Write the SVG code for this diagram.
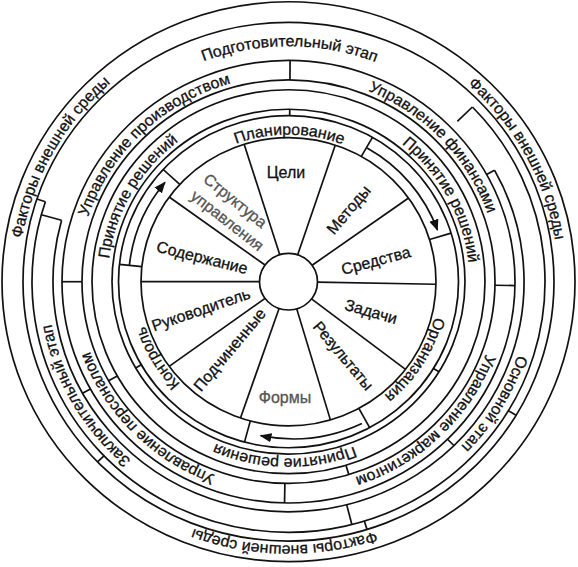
<svg xmlns="http://www.w3.org/2000/svg" xmlns:xlink="http://www.w3.org/1999/xlink" width="578" height="567" viewBox="0 0 578 567">
<style>
.ln{fill:none;stroke:#111;stroke-width:1.7}
.tk{stroke:#111;stroke-width:1.7}
.t{font-family:"Liberation Sans",Arial,sans-serif;font-size:16px;fill:#111;stroke:#111;stroke-width:0.3}
.g{fill:#555;stroke:#555}
</style>
<defs>
<path id="c2695" d="M270,0A270,270 0 1 1 -270,0A270,270 0 1 1 270,0A270,270 0 1 1 -270,0A270,270 0 1 1 270,0"/>
<path id="c2405" d="M241,0A241,241 0 1 1 -241,0A241,241 0 1 1 241,0A241,241 0 1 1 -241,0A241,241 0 1 1 241,0"/>
<path id="c2105" d="M211,0A211,211 0 1 1 -211,0A211,211 0 1 1 211,0A211,211 0 1 1 -211,0A211,211 0 1 1 211,0"/>
<path id="c1805" d="M181,0A181,181 0 1 1 -181,0A181,181 0 1 1 181,0A181,181 0 1 1 -181,0A181,181 0 1 1 181,0"/>
<path id="c1505" d="M150.5,0A150.5,150.5 0 1 1 -150.5,0A150.5,150.5 0 1 1 150.5,0A150.5,150.5 0 1 1 -150.5,0A150.5,150.5 0 1 1 150.5,0"/>
<marker id="ah" viewBox="0 0 10 10" refX="9" refY="5" markerWidth="7" markerHeight="7" orient="auto"><path d="M0,1L10,5L0,9z" fill="#111"/></marker>
</defs>
<g transform="translate(288.5,281.7) scale(1,0.977)">
<g id="rings">
<circle class="ln" r="286.5"/><circle class="ln" r="265.5"/>
<path class="ln" d="M183.9,-178.8A256.5,256.5 0 1 1 -243.1,-81.8"/>
<path class="ln" d="M206,-114.2A235.5,235.5 0 1 1 -226.9,-62.9"/>
<circle class="ln" r="226.5"/><circle class="ln" r="206.5"/>
<circle class="ln" r="196.5"/><circle class="ln" r="176.5"/>
<circle class="ln" r="170"/><circle class="ln" r="147.5"/>
<circle class="ln" r="29"/>
</g>
<g id="connectors">
<line class="tk" x1="29" x2="147.5" transform="rotate(-107.5)"/>
<line class="tk" x1="29" x2="147.5" transform="rotate(-71.5)"/>
<line class="tk" x1="29" x2="147.5" transform="rotate(-35.5)"/>
<line class="tk" x1="29" x2="147.5" transform="rotate(1)"/>
<line class="tk" x1="29" x2="147.5" transform="rotate(37.5)"/>
<line class="tk" x1="29" x2="147.5" transform="rotate(73.5)"/>
<line class="tk" x1="29" x2="147.5" transform="rotate(109)"/>
<line class="tk" x1="29" x2="147.5" transform="rotate(144)"/>
<line class="tk" x1="29" x2="147.5" transform="rotate(180)"/>
<line class="tk" x1="29" x2="147.5" transform="rotate(216)"/>
<line class="tk" x1="206.5" x2="226.5" transform="rotate(-89.6)"/>
<line class="tk" x1="206.5" x2="226.5" transform="rotate(1)"/>
<line class="tk" x1="206.5" x2="226.5" transform="rotate(91)"/>
<line class="tk" x1="206.5" x2="226.5" transform="rotate(180)"/>
<line class="tk" x1="235.5" x2="256.5" transform="rotate(195.5)"/>
<line class="tk" x1="235.5" x2="256.5" transform="rotate(-44.2)"/>
<line class="tk" x1="235.5" x2="256.5" transform="rotate(75.7)"/>
<line class="tk" x1="256.5" x2="265.5" transform="rotate(198.6)"/>
<line class="tk" x1="256.5" x2="265.5" transform="rotate(136)"/>
<line class="tk" x1="256.5" x2="265.5" transform="rotate(72.8)"/>
<line class="tk" x1="256.5" x2="265.5" transform="rotate(31)"/>
<line class="tk" x1="226.5" x2="235.5" transform="rotate(-29)"/>
<line class="tk" x1="226.5" x2="235.5" transform="rotate(45.4)"/>
<line class="tk" x1="226.5" x2="235.5" transform="rotate(151)"/>
<line class="tk" x1="196.5" x2="206.5" transform="rotate(150.6)"/>
<line class="tk" x1="196.5" x2="206.5" transform="rotate(73)"/>
<line class="tk" x1="170" x2="176.5" transform="rotate(-89.6)"/>
<line class="tk" x1="170" x2="176.5" transform="rotate(150)"/>
<line class="tk" x1="170" x2="176.5" transform="rotate(31.5)"/>
<line class="tk" x1="147.5" x2="170" transform="rotate(-60.4)"/>
<line class="tk" x1="147.5" x2="170" transform="rotate(-17)"/>
<line class="tk" x1="147.5" x2="170" transform="rotate(61.5)"/>
<line class="tk" x1="147.5" x2="170" transform="rotate(105)"/>
<line class="tk" x1="147.5" x2="170" transform="rotate(186)"/>
<line class="tk" x1="147.5" x2="170" transform="rotate(222.5)"/>
<path class="ln" marker-end="url(#ah)" d="M78.6,-136.8A158,158 0 0 1 148.9,-52.9"/>
<path class="ln" marker-end="url(#ah)" d="M73.4,145.1A160,160 0 0 1 -27.8,157.6"/>
<path class="ln" marker-end="url(#ah)" d="M-159.1,-16.7A160,160 0 0 1 -123.6,-101.6"/>
</g>
</g>
<g id="sectors">
<text class="t" x="286" y="178" text-anchor="middle">Цели</text>
<text class="t" text-anchor="middle" transform="translate(349,210) rotate(-50)" dy="5">Методы</text>
<text class="t" text-anchor="middle" transform="translate(376,261) rotate(-15)" dy="5">Средства</text>
<text class="t" text-anchor="middle" transform="translate(371,312) rotate(16)" dy="5">Задачи</text>
<text class="t" text-anchor="middle" transform="translate(343,356) rotate(50)" dy="5">Результаты</text>
<text class="t g" text-anchor="middle" transform="translate(285,398)" dy="5">Формы</text>
<text class="t" text-anchor="middle" transform="translate(230,350) rotate(-50)" dy="5">Подчиненные</text>
<text class="t" text-anchor="middle" transform="translate(201,310) rotate(-19)" dy="5">Руководитель</text>
<text class="t" text-anchor="middle" transform="translate(202,258) rotate(14)" dy="5">Содержание</text>
<text class="t g" text-anchor="middle" transform="translate(235,201) rotate(39)" dy="5">Структура</text>
<text class="t g" text-anchor="middle" transform="translate(227,221) rotate(38)" dy="5">управления</text>
</g>
<g id="bands" transform="translate(288.5,281.7) scale(1,0.977)">
<text class="t" text-anchor="middle"><textPath xlink:href="#c2695" startOffset="2681">Факторы внешней среды</textPath></text>
<text class="t" text-anchor="middle"><textPath xlink:href="#c2695" startOffset="3256">Факторы внешней среды</textPath></text>
<text class="t" text-anchor="middle"><textPath xlink:href="#c2695" startOffset="2124">Факторы внешней среды</textPath></text>
<text class="t" text-anchor="middle"><textPath xlink:href="#c2405" startOffset="2650">Подготовительный этап</textPath></text>
<text class="t" text-anchor="middle"><textPath xlink:href="#c2405" startOffset="1645">Основной этап</textPath></text>
<text class="t" text-anchor="middle"><textPath xlink:href="#c2405" startOffset="2145">Заключительный этап</textPath></text>
<text class="t" text-anchor="middle"><textPath xlink:href="#c2105" startOffset="2158">Управление производством</textPath></text>
<text class="t" text-anchor="middle"><textPath xlink:href="#c2105" startOffset="2490">Управление финансами</textPath></text>
<text class="t" text-anchor="middle"><textPath xlink:href="#c2105" startOffset="1495">Управление маркетингом</textPath></text>
<text class="t" text-anchor="middle"><textPath xlink:href="#c2105" startOffset="1823">Управление персоналом</textPath></text>
<text class="t" text-anchor="middle"><textPath xlink:href="#c1805" startOffset="1800">Принятие решений</textPath></text>
<text class="t" text-anchor="middle"><textPath xlink:href="#c1805" startOffset="2183">Принятие решений</textPath></text>
<text class="t" text-anchor="middle"><textPath xlink:href="#c1805" startOffset="1425">Принятие решения</textPath></text>
<text class="t" text-anchor="middle"><textPath xlink:href="#c1505" startOffset="1655">Планирование</textPath></text>
<text class="t" text-anchor="middle"><textPath xlink:href="#c1505" startOffset="1030">Организация</textPath></text>
<text class="t" text-anchor="middle"><textPath xlink:href="#c1505" startOffset="1337">Контроль</textPath></text>
</g>
</svg>
